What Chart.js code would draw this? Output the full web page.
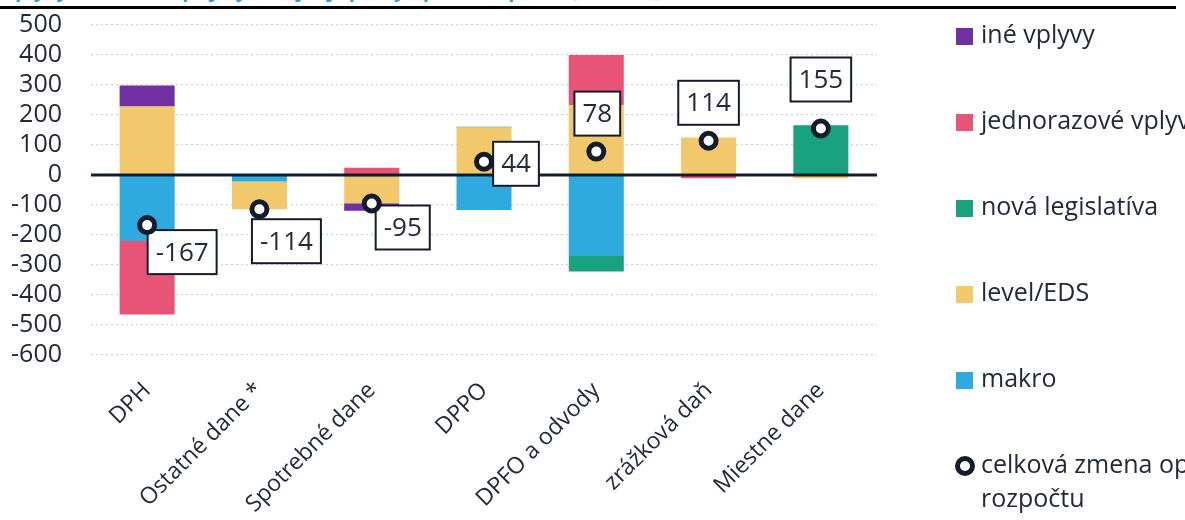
<!DOCTYPE html>
<html>
<head>
<meta charset="utf-8">
<script src="https://cdn.jsdelivr.net/npm/chart.js@4.4.1/dist/chart.umd.min.js"></script>
<style>
  body { margin: 0; background: #fff; overflow: hidden; }
  #page { position: relative; width: 1185px; height: 520px; overflow: hidden; font-family: "Open Sans", sans-serif; }
  #title { position: absolute; left: 2px; top: -24px; color: #2a9fd8; font-weight: bold; font-size: 20px; white-space: nowrap; }
  #rule { position: absolute; left: 0; top: 6px; width: 1176px; height: 3px; background: #000; z-index: 2; }
  canvas { position: absolute; left: 0; top: 0; }
</style>
</head>
<body>
<div id="page">
  <div id="title">Vplyvy na daňové príjmy verejnej správy oproti rozpočtu (mil. eur)</div>
  <div id="rule"></div>
  <canvas id="taxChart" width="1185" height="520"></canvas>
</div>
<script>
// data (mil. eur)
const categories = ['DPH', 'Ostatné dane *', 'Spotrebné dane', 'DPPO', 'DPFO a odvody', 'zrážková daň', 'Miestne dane'];
const makro = [-220, -22, -5, -117, -270, 0, 0];
const levelEds = [228, -92, -89, 158, 233, 125, -11];
const novaLegislativa = [0, 0, 0, 3, -52, 0, 166];
const jednorazove = [-245, 0, 24, 0, 167, -11, 0];
const ineVplyvy = [70, 0, -25, 0, 0, 0, 0];
const celkovaZmena = [-167, -114, -95, 44, 78, 114, 155];
const yTicks = [500, 400, 300, 200, 100, 0, -100, -200, -300, -400, -500, -600];

const textColor = '#222a38';
const ringColor = '#141c2b';

// where each value box sits relative to its marker
const boxOffsets = [[35, 27], [27, 32], [31, 24], [32, 2], [1, -38], [0, -38], [0, -49]];

const zeroLinePlugin = {
  id: 'zeroLine',
  beforeDatasetDraw(chart, args) {
    if (args.meta.type !== 'line') return;
    const ctx = chart.ctx;
    const y = chart.scales.y.getPixelForValue(0);
    ctx.save();
    ctx.strokeStyle = ringColor;
    ctx.lineWidth = 3;
    ctx.beginPath();
    ctx.moveTo(chart.chartArea.left, y);
    ctx.lineTo(chart.chartArea.right, y);
    ctx.stroke();

    // value boxes
    const meta = chart.getDatasetMeta(args.index);
    ctx.font = '26px "Open Sans"';
    ctx.textAlign = 'center';
    ctx.textBaseline = 'middle';
    meta.data.forEach((pt, i) => {
      const txt = String(celkovaZmena[i]);
      const cx = pt.x + boxOffsets[i][0];
      const cy = pt.y + boxOffsets[i][1];
      const w = ctx.measureText(txt).width + 16;
      const h = 44;
      ctx.fillStyle = '#fff';
      ctx.fillRect(cx - w / 2, cy - h / 2, w, h);
      ctx.lineWidth = 2;
      ctx.strokeStyle = ringColor;
      ctx.strokeRect(cx - w / 2, cy - h / 2, w, h);
      ctx.fillStyle = textColor;
      ctx.fillText(txt, cx, cy + 1);
    });
    ctx.restore();
  }
};

const legendPlugin = {
  id: 'sideLegend',
  afterDraw(chart) {
    const ctx = chart.ctx;
    const ds = chart.data.datasets;
    const items = [ds[4], ds[3], ds[2], ds[1], ds[0], ds[5]];
    ctx.save();
    ctx.font = '25px "Open Sans"';
    ctx.textBaseline = 'middle';
    ctx.textAlign = 'left';
    items.forEach((d, i) => {
      const y = 36 + i * 86;
      if (d.type === 'line') {
        ctx.beginPath();
        ctx.arc(965, y, 7.5, 0, Math.PI * 2);
        ctx.fillStyle = '#fff';
        ctx.fill();
        ctx.lineWidth = 5;
        ctx.strokeStyle = ringColor;
        ctx.stroke();
      } else {
        ctx.fillStyle = d.backgroundColor;
        ctx.fillRect(956, y - 8, 17, 17);
      }
      ctx.fillStyle = textColor;
      const lines = Array.isArray(d.label) ? d.label : [d.label];
      lines.forEach((t, k) => ctx.fillText(t, 981, y + k * 34));
    });
    ctx.restore();
  }
};

const barDefaults = { categoryPercentage: 1, barPercentage: 0.49, borderWidth: 0, order: 1 };

new Chart(document.getElementById('taxChart'), {
  type: 'bar',
  data: {
    labels: categories,
    datasets: [
      { ...barDefaults, label: 'makro', data: makro, backgroundColor: '#2eaadf' },
      { ...barDefaults, label: 'level/EDS', data: levelEds, backgroundColor: '#f2c86c' },
      { ...barDefaults, label: 'nová legislatíva', data: novaLegislativa, backgroundColor: '#1aa27e' },
      { ...barDefaults, label: 'jednorazové vplyvy', data: jednorazove, backgroundColor: '#e85475' },
      { ...barDefaults, label: 'iné vplyvy', data: ineVplyvy, backgroundColor: '#7030a0' },
      {
        type: 'line',
        label: ['celková zmena oproti', 'rozpočtu'],
        data: celkovaZmena,
        showLine: false,
        order: 0,
        pointRadius: 7.5,
        pointBorderWidth: 5,
        pointBackgroundColor: '#fff',
        pointBorderColor: ringColor
      }
    ]
  },
  options: {
    responsive: false,
    animation: false,
    layout: { padding: { top: 25, right: 308, left: 0, bottom: 0 } },
    plugins: { legend: { display: false }, tooltip: { enabled: false } },
    scales: {
      x: {
        stacked: true,
        grid: { display: false },
        border: { display: false },
        ticks: {
          color: textColor,
          font: { family: 'Open Sans', size: 23 },
          minRotation: 45,
          maxRotation: 45,
          autoSkip: false,
          padding: 14
        },
        afterFit(scale) {
          scale.height = 165;
          scale.paddingLeft = 0;
          scale.paddingRight = 0;
        }
      },
      y: {
        stacked: true,
        min: -600,
        max: 500,
        afterBuildTicks(scale) { scale.ticks = yTicks.map(v => ({ value: v })); },
        grid: { color: '#cfd2d6', lineWidth: 1.2, drawTicks: false },
        border: { display: false, dash: [2, 3] },
        ticks: {
          color: textColor,
          font: { family: 'Open Sans', size: 25 },
          padding: 29,
          autoSkip: false
        },
        afterFit(scale) {
          scale.width = 91;
          scale.paddingTop = 0;
          scale.paddingBottom = 0;
        }
      }
    }
  },
  plugins: [zeroLinePlugin, legendPlugin]
});
</script>
</body>
</html>
